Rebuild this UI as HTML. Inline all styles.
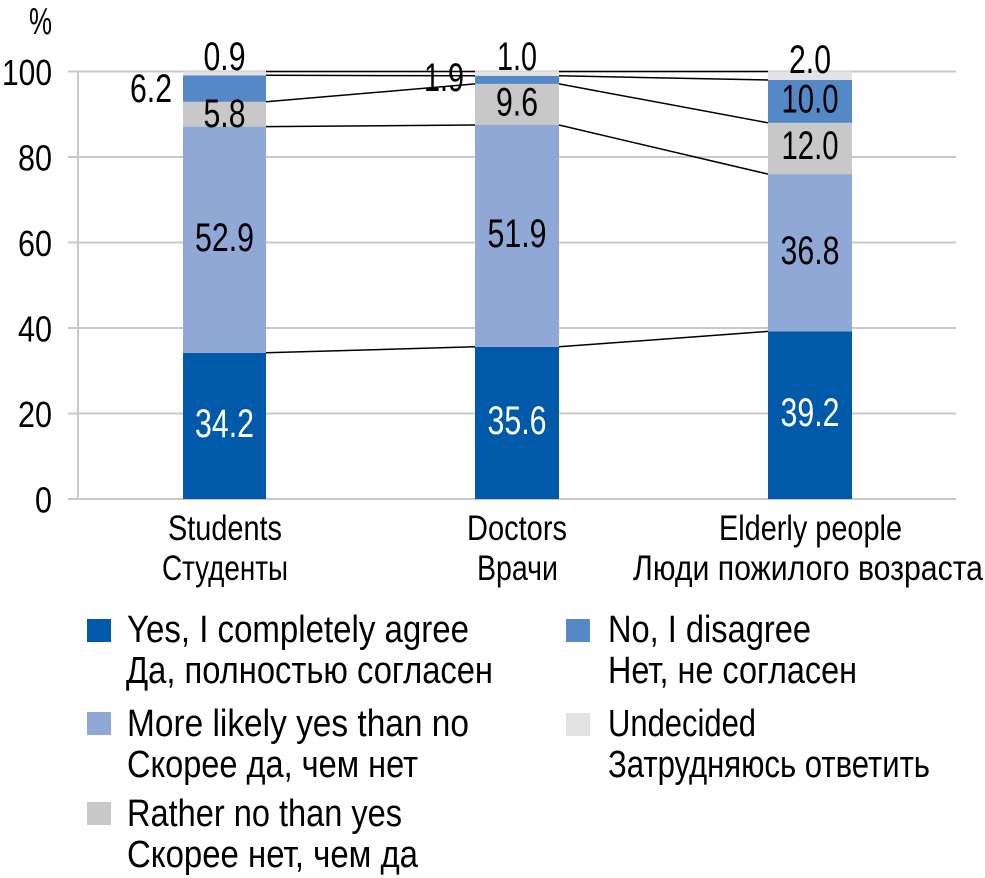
<!DOCTYPE html>
<html><head><meta charset="utf-8"><style>
html,body{margin:0;padding:0;background:#fff;}
svg{display:block;}
text{font-family:"Liberation Sans Narrow","Liberation Sans",sans-serif;font-size:36px;fill:#000;}
text.d{font-size:40px;}
text.w{font-size:40px;fill:#fff;}
text.l{font-size:38px;}
text.x{font-size:35px;}
text.p{font-size:38px;}
</style></head><body>
<svg width="985" height="878" viewBox="0 0 985 878" xmlns="http://www.w3.org/2000/svg">
<!-- gridlines -->
<g stroke="#c8c8c8" stroke-width="2">
<line x1="68" y1="71.5" x2="956" y2="71.5"/>
<line x1="68" y1="157" x2="956" y2="157"/>
<line x1="68" y1="242.5" x2="956" y2="242.5"/>
<line x1="68" y1="328" x2="956" y2="328"/>
<line x1="68" y1="413.5" x2="956" y2="413.5"/>
<line x1="68" y1="499" x2="956" y2="499"/>
<line x1="78" y1="71.5" x2="78" y2="499"/>
</g>
<!-- y labels -->
<g text-anchor="end">
<text class="p" x="52" y="34" textLength="23" lengthAdjust="spacingAndGlyphs">%</text>
<text x="52" y="85" textLength="50" lengthAdjust="spacingAndGlyphs">100</text>
<text x="52" y="170.5" textLength="34" lengthAdjust="spacingAndGlyphs">80</text>
<text x="52" y="256" textLength="34" lengthAdjust="spacingAndGlyphs">60</text>
<text x="52" y="341.5" textLength="34" lengthAdjust="spacingAndGlyphs">40</text>
<text x="52" y="427" textLength="34" lengthAdjust="spacingAndGlyphs">20</text>
<text x="52" y="512.5" textLength="17" lengthAdjust="spacingAndGlyphs">0</text>
</g>
<!-- bars: students -->
<rect x="183" y="352.8" width="83" height="146.2" fill="#005aa9"/>
<rect x="183" y="126.6" width="83" height="226.2" fill="#8fa8d6"/>
<rect x="183" y="101.8" width="83" height="24.8" fill="#c8c8c8"/>
<rect x="183" y="75.3" width="83" height="26.5" fill="#5588c6"/>
<rect x="183" y="71.5" width="83" height="3.8" fill="#e3e3e3"/>
<!-- doctors -->
<rect x="475" y="346.8" width="84" height="152.2" fill="#005aa9"/>
<rect x="475" y="125" width="84" height="221.8" fill="#8fa8d6"/>
<rect x="475" y="83.9" width="84" height="41.1" fill="#c8c8c8"/>
<rect x="475" y="75.8" width="84" height="8.1" fill="#5588c6"/>
<rect x="475" y="71.5" width="84" height="4.3" fill="#e3e3e3"/>
<!-- elderly -->
<rect x="768" y="331.4" width="84" height="167.6" fill="#005aa9"/>
<rect x="768" y="174.1" width="84" height="157.3" fill="#8fa8d6"/>
<rect x="768" y="122.8" width="84" height="51.3" fill="#c8c8c8"/>
<rect x="768" y="80" width="84" height="42.8" fill="#5588c6"/>
<rect x="768" y="71.5" width="84" height="8.5" fill="#e3e3e3"/>
<!-- series lines -->
<g stroke="#000" stroke-width="1.5">
<line x1="266" y1="352.8" x2="475" y2="346.8"/>
<line x1="266" y1="126.6" x2="475" y2="125"/>
<line x1="266" y1="101.8" x2="475" y2="83.9"/>
<line x1="266" y1="75.3" x2="475" y2="75.8"/>
<line x1="266" y1="71.5" x2="475" y2="71.5"/>
<line x1="559" y1="346.8" x2="768" y2="331.4"/>
<line x1="559" y1="125" x2="768" y2="174.1"/>
<line x1="559" y1="83.9" x2="768" y2="122.8"/>
<line x1="559" y1="75.8" x2="768" y2="80"/>
<line x1="559" y1="71.5" x2="768" y2="71.5"/>
</g>
<!-- data labels -->
<g text-anchor="middle">
<text class="w" x="224.5" y="437" textLength="59" lengthAdjust="spacingAndGlyphs">34.2</text>
<text class="d" x="224.5" y="251" textLength="59" lengthAdjust="spacingAndGlyphs">52.9</text>
<text class="d" x="224.5" y="127" textLength="42" lengthAdjust="spacingAndGlyphs">5.8</text>
<text class="d" x="224.5" y="70" textLength="42" lengthAdjust="spacingAndGlyphs">0.9</text>
<text class="w" x="517" y="434" textLength="59" lengthAdjust="spacingAndGlyphs">35.6</text>
<text class="d" x="517" y="247" textLength="59" lengthAdjust="spacingAndGlyphs">51.9</text>
<text class="d" x="517" y="115.5" textLength="42" lengthAdjust="spacingAndGlyphs">9.6</text>
<text class="d" x="517" y="70" textLength="40" lengthAdjust="spacingAndGlyphs">1.0</text>
<text class="w" x="810" y="426" textLength="59" lengthAdjust="spacingAndGlyphs">39.2</text>
<text class="d" x="810" y="264" textLength="59" lengthAdjust="spacingAndGlyphs">36.8</text>
<text class="d" x="810" y="159" textLength="57" lengthAdjust="spacingAndGlyphs">12.0</text>
<text class="d" x="810" y="112.5" textLength="57" lengthAdjust="spacingAndGlyphs">10.0</text>
<text class="d" x="810" y="73" textLength="42" lengthAdjust="spacingAndGlyphs">2.0</text>
</g>
<text class="d" x="130" y="102" textLength="42" lengthAdjust="spacingAndGlyphs">6.2</text>
<text class="d" x="424" y="91" textLength="40" lengthAdjust="spacingAndGlyphs">1.9</text>
<!-- x labels -->
<text class="x" x="168" y="540" textLength="114" lengthAdjust="spacingAndGlyphs">Students</text>
<text class="x" x="162" y="580" textLength="126" lengthAdjust="spacingAndGlyphs">Студенты</text>
<text class="x" x="467" y="540" textLength="100" lengthAdjust="spacingAndGlyphs">Doctors</text>
<text class="x" x="477" y="580" textLength="81" lengthAdjust="spacingAndGlyphs">Врачи</text>
<text class="x" x="719" y="540" textLength="183" lengthAdjust="spacingAndGlyphs">Elderly people</text>
<text class="x" x="633" y="580" textLength="350" lengthAdjust="spacingAndGlyphs">Люди пожилого возраста</text>
<!-- legend -->
<rect x="87" y="619" width="24" height="23" fill="#005aa9"/>
<rect x="87" y="712" width="24" height="23" fill="#8fa8d6"/>
<rect x="87" y="802" width="24" height="23" fill="#c8c8c8"/>
<rect x="566" y="619" width="24" height="23" fill="#5588c6"/>
<rect x="566" y="713" width="24" height="23" fill="#e3e3e3"/>
<text class="l" x="127" y="642" textLength="342" lengthAdjust="spacingAndGlyphs">Yes, I completely agree</text>
<text class="l" x="126" y="683" textLength="367" lengthAdjust="spacingAndGlyphs">Да, полностью согласен</text>
<text class="l" x="127" y="736" textLength="342" lengthAdjust="spacingAndGlyphs">More likely yes than no</text>
<text class="l" x="127" y="777" textLength="291" lengthAdjust="spacingAndGlyphs">Скорее да, чем нет</text>
<text class="l" x="127" y="826" textLength="275" lengthAdjust="spacingAndGlyphs">Rather no than yes</text>
<text class="l" x="127" y="867" textLength="291" lengthAdjust="spacingAndGlyphs">Скорее нет, чем да</text>
<text class="l" x="608" y="642" textLength="203" lengthAdjust="spacingAndGlyphs">No, I disagree</text>
<text class="l" x="608" y="683" textLength="249" lengthAdjust="spacingAndGlyphs">Нет, не согласен</text>
<text class="l" x="608" y="736" textLength="148" lengthAdjust="spacingAndGlyphs">Undecided</text>
<text class="l" x="608" y="777" textLength="322" lengthAdjust="spacingAndGlyphs">Затрудняюсь ответить</text>
</svg>
</body></html>
